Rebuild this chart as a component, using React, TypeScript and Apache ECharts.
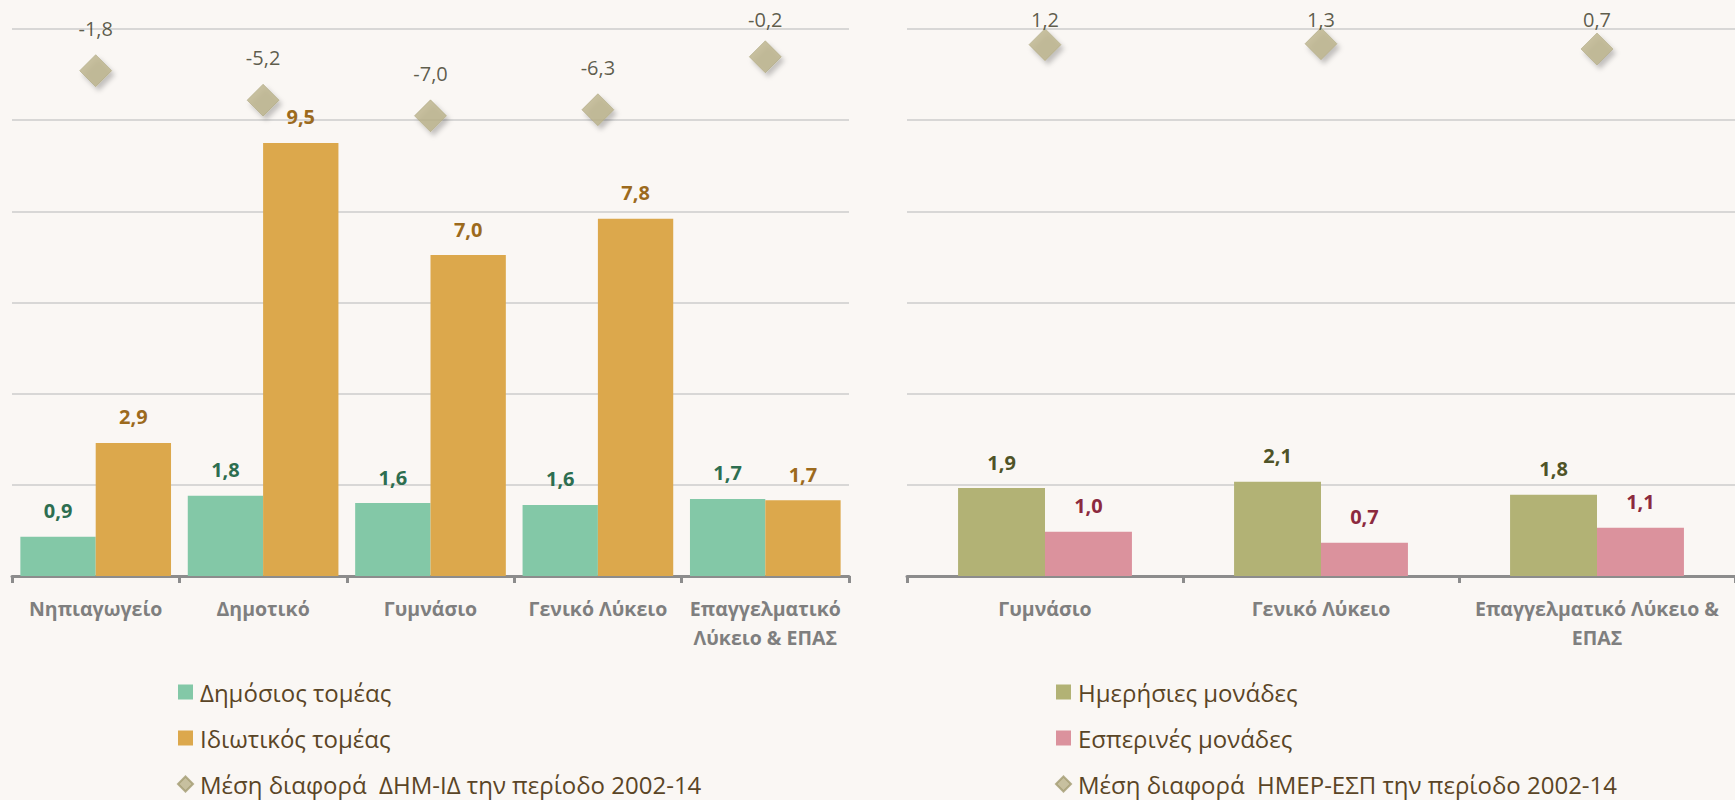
import React, { useEffect, useRef } from "react";
import * as echarts from "echarts";

const leftCategories = ["Νηπιαγωγείο", "Δημοτικό", "Γυμνάσιο", "Γενικό Λύκειο", "Επαγγελματικό\nΛύκειο & ΕΠΑΣ"];
const publicSector = [0.86, 1.76, 1.6, 1.56, 1.69];
const privateSector = [2.92, 9.5, 7.04, 7.84, 1.66];
const diffPublicPrivate = [-1.8, -5.2, -7.0, -6.3, -0.2];

const rightCategories = ["Γυμνάσιο", "Γενικό Λύκειο", "Επαγγελματικό Λύκειο &\nΕΠΑΣ"];
const dayUnits = [1.93, 2.07, 1.78];
const eveningUnits = [0.97, 0.73, 1.06];
const diffDayEvening = [1.2, 1.3, 0.7];

const NAME_PUB = "Δημόσιος τομέας";
const NAME_PRIV = "Ιδιωτικός τομέας";
const NAME_DIFF_L = "Μέση διαφορά  ΔΗΜ-ΙΔ την περίοδο 2002-14";
const NAME_DAY = "Ημερήσιες μονάδες";
const NAME_EVE = "Εσπερινές μονάδες";
const NAME_DIFF_R = "Μέση διαφορά  ΗΜΕΡ-ΕΣΠ την περίοδο 2002-14";

const FONT = "'Open Sans', 'Noto Sans', sans-serif";
const fmt = (v: number) => v.toFixed(1).replace(".", ",");

function buildOption(offL: number[][], offR: number[][]) {
  const xAxisCommon = {
    type: "category",
    axisLine: { show: true, lineStyle: { color: "#8c8c8c", width: 3 } },
    axisTick: { show: true, length: 7, lineStyle: { color: "#8c8c8c", width: 3 } },
    axisLabel: {
      fontFamily: FONT,
      fontSize: 19.5,
      fontWeight: "bold",
      color: "#7f7f7f",
      margin: 18,
      lineHeight: 29,
      interval: 0,
    },
    splitLine: { show: false },
  };
  const yPrimary = (gi: number) => ({
    type: "value",
    gridIndex: gi,
    min: 0,
    max: 12,
    interval: 2,
    axisLine: { show: false },
    axisTick: { show: false },
    axisLabel: { show: false },
    splitLine: { show: true, lineStyle: { color: "#cdcdcd", width: 1.5 } },
  });
  const ySecondary = (gi: number) => ({
    type: "value",
    gridIndex: gi,
    min: -60,
    max: 3,
    show: false,
    splitLine: { show: false },
  });
  const barLabel = (color: string) => ({
    show: true,
    position: "top",
    distance: 15,
    fontFamily: FONT,
    fontSize: 20,
    fontWeight: "bold",
    lineHeight: 22,
    color,
    formatter: (p: any) => fmt(p.value),
  });
  const diamondStyle = {
    color: "#bab28a",
    borderColor: "#a39b72",
    borderWidth: 0.6,
    shadowBlur: 5,
    shadowOffsetX: 3,
    shadowOffsetY: 4,
    shadowColor: "rgba(0,0,0,0.28)",
  };
  const diamondLabel = {
    show: true,
    position: "top",
    distance: 15,
    fontFamily: FONT,
    fontSize: 20,
    lineHeight: 22,
    color: "#35341c",
    formatter: (p: any) => fmt(typeof p.value === "number" ? p.value : p.data.value),
  };
  const legendCommon = {
    orient: "vertical",
    top: 680,
    height: 118,
    padding: 0,
    itemWidth: 15,
    itemHeight: 15,
    itemGap: 22,
    selectedMode: false,
    textStyle: { fontFamily: FONT, fontSize: 24, color: "#5a4526", lineHeight: 24, padding: [0, 0, 0, 2] },
  };
  return {
    animation: false,
    backgroundColor: "#faf7f4",
    grid: [
      { left: 12, top: 29, width: 837, height: 547 },
      { left: 907, top: 29, width: 835.5, height: 547 },
    ],
    xAxis: [
      { ...xAxisCommon, gridIndex: 0, data: leftCategories },
      { ...xAxisCommon, gridIndex: 1, data: rightCategories },
    ],
    yAxis: [yPrimary(0), ySecondary(0), yPrimary(1), ySecondary(1)],
    legend: [
      {
        ...legendCommon,
        left: 177,
        data: [
          { name: NAME_PUB, icon: "rect" },
          { name: NAME_PRIV, icon: "rect" },
          { name: NAME_DIFF_L, icon: "diamond" },
        ],
      },
      {
        ...legendCommon,
        left: 1055,
        data: [
          { name: NAME_DAY, icon: "rect" },
          { name: NAME_EVE, icon: "rect" },
          { name: NAME_DIFF_R, icon: "diamond" },
        ],
      },
    ],
    series: [
      {
        name: NAME_PUB,
        type: "bar",
        xAxisIndex: 0,
        yAxisIndex: 0,
        data: publicSector,
        barGap: "0%",
        barCategoryGap: "10%",
        itemStyle: { color: "#83c8a7" },
        label: barLabel("#2d6e50"),
        z: 2,
      },
      {
        name: NAME_PRIV,
        type: "bar",
        xAxisIndex: 0,
        yAxisIndex: 0,
        data: privateSector,
        barGap: "0%",
        barCategoryGap: "10%",
        itemStyle: { color: "#dca84c" },
        label: barLabel("#9c6a1d"),
        z: 2,
      },
      {
        name: NAME_DIFF_L,
        type: "scatter",
        xAxisIndex: 0,
        yAxisIndex: 1,
        symbol: "diamond",
        symbolSize: 32,
        data: diffPublicPrivate.map((v, i) => ({ value: v, label: { offset: offL[i] || [0, 0] } })),
        itemStyle: diamondStyle,
        label: diamondLabel,
        z: 5,
      },
      {
        name: NAME_DAY,
        type: "bar",
        xAxisIndex: 1,
        yAxisIndex: 2,
        data: dayUnits,
        barGap: "0%",
        barCategoryGap: "37%",
        itemStyle: { color: "#b2b275" },
        label: barLabel("#4f5327"),
        z: 2,
      },
      {
        name: NAME_EVE,
        type: "bar",
        xAxisIndex: 1,
        yAxisIndex: 2,
        data: eveningUnits,
        barGap: "0%",
        barCategoryGap: "37%",
        itemStyle: { color: "#db929d" },
        label: barLabel("#8c2a3e"),
        z: 2,
      },
      {
        name: NAME_DIFF_R,
        type: "scatter",
        xAxisIndex: 1,
        yAxisIndex: 3,
        symbol: "diamond",
        symbolSize: 32,
        data: diffDayEvening.map((v, i) => ({ value: v, label: { offset: offR[i] || [0, 0] } })),
        itemStyle: diamondStyle,
        label: diamondLabel,
        z: 5,
      },
    ],
  };
}

export default function App() {
  const ref = useRef<HTMLDivElement>(null);
  useEffect(() => {
    document.body.style.margin = "0";
    if (!ref.current) return;
    const chart = echarts.init(ref.current, undefined, { renderer: "svg" });
    chart.setOption(buildOption([], []) as any);
    // Keep diamond labels inside the top of the plot area (as the original does)
    const minCenter = 20;
    const computeOffsets = (seriesIndex: number, vals: number[]) =>
      vals.map((v, i) => {
        const pt = chart.convertToPixel({ seriesIndex } as any, [i, v]) as number[];
        const center = pt[1] - 16 - 15 - 11;
        return [0, center < minCenter ? minCenter - center : 0];
      });
    const offL = computeOffsets(2, diffPublicPrivate);
    const offR = computeOffsets(5, diffDayEvening);
    chart.setOption(buildOption(offL, offR) as any);
    return () => chart.dispose();
  }, []);
  return <div ref={ref} style={{ position: "fixed", left: 0, top: 0, width: 1735, height: 800 }} />;
}
